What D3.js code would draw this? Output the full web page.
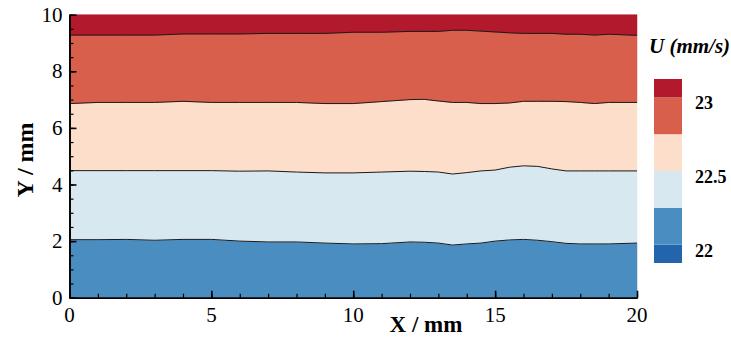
<!DOCTYPE html>
<html>
<head>
<meta charset="utf-8">
<script src="https://cdn.jsdelivr.net/npm/d3@7"></script>
<style>
  html, body { margin: 0; padding: 0; background: #fff; }
  svg { display: block; }
</style>
</head>
<body>
<svg id="chart" width="731" height="337" font-family="'Liberation Serif', 'DejaVu Serif', serif"></svg>
<script>
// ---------- data ----------
const xs = [0,1,2,3,4,5,6,7,8,9,10,11,12,12.5,13,13.5,14,14.5,15,15.5,16,16.5,17,17.5,18,18.5,19,20];
// y position (mm) of each iso-line of U along X
const line2225 = [2.05,2.05,2.06,2.03,2.06,2.06,2.00,1.97,1.97,1.93,1.90,1.91,1.97,1.96,1.93,1.86,1.90,1.93,2.00,2.04,2.06,2.03,1.98,1.92,1.90,1.90,1.90,1.93];
const line225  = [4.49,4.49,4.49,4.49,4.49,4.49,4.47,4.48,4.44,4.41,4.41,4.44,4.47,4.46,4.44,4.37,4.42,4.48,4.51,4.61,4.66,4.64,4.55,4.48,4.48,4.48,4.48,4.48];
const line2275 = [6.86,6.90,6.90,6.90,6.94,6.90,6.90,6.90,6.90,6.86,6.86,6.93,7.00,7.01,6.95,6.90,6.90,6.86,6.86,6.88,6.94,6.94,6.94,6.93,6.90,6.86,6.90,6.90];
const line23   = [9.28,9.28,9.28,9.28,9.32,9.32,9.32,9.34,9.34,9.34,9.38,9.38,9.41,9.41,9.41,9.45,9.45,9.42,9.39,9.36,9.34,9.34,9.34,9.31,9.31,9.28,9.31,9.27];
const contourLevels = [22.25, 22.5, 22.75, 23];
const legendLevels = [22, 22.25, 22.5, 22.75, 23];
const legendLabels = [22, 22.5, 23];
const xTicks = [0, 5, 10, 15, 20];
const yTicks = [0, 2, 4, 6, 8, 10];
// band colours, low to high (first one only shows in the legend)
const bandColors = ["#2265ad", "#4a8dc1", "#d7e8f1", "#fcdeca", "#d75f4c", "#b2192d"];

// ---------- layout ----------
const FONT = "'Liberation Serif', 'DejaVu Serif', serif";
const svg = d3.select("#chart");
const L = 69.5, R = 637, T = 14.7, B = 297.7;
const x = d3.scaleLinear().domain([0, 20]).range([L, R]);
const y = d3.scaleLinear().domain([0, 10]).range([B, T]);

const lines = [line2225, line225, line2275, line23];
const pts = lines.map(arr => xs.map((xv, i) => ({x: xv, y: arr[i]})));

const bands = [];
for (let b = 0; b <= lines.length; b++) {
  bands.push(xs.map((xv, i) => ({
    x: xv,
    y0: b === 0 ? 0 : lines[b - 1][i],
    y1: b === lines.length ? 10 : lines[b][i]
  })));
}
const area = d3.area().x(d => x(d.x)).y0(d => y(d.y0)).y1(d => y(d.y1));
svg.append("g").selectAll("path").data(bands).join("path")
  .attr("d", area)
  .attr("fill", (d, i) => bandColors[i + 1])
  .attr("stroke", (d, i) => bandColors[i + 1])
  .attr("stroke-width", 0.5);

const line = d3.line().x(d => x(d.x)).y(d => y(d.y));
svg.append("g").selectAll("path").data(pts).join("path")
  .attr("d", line)
  .attr("fill", "none")
  .attr("stroke", "#1a1a1a")
  .attr("stroke-width", 1);

// ---------- axes ----------
function styleAxis(g, w) {
  g.select(".domain").attr("stroke", "#000").attr("stroke-width", 1.6);
  g.selectAll(".tick line").attr("stroke", "#000").attr("stroke-width", w);
  g.selectAll(".tick text").remove();
}
svg.append("g").attr("transform", `translate(0,${B})`)
  .call(d3.axisBottom(x).ticks(20).tickSize(-4).tickSizeOuter(0).tickFormat(""))
  .call(g => styleAxis(g, 1.2));
svg.append("g").attr("transform", `translate(0,${B})`)
  .call(d3.axisBottom(x).tickValues(xTicks).tickSize(-7).tickSizeOuter(0).tickFormat(""))
  .call(g => styleAxis(g, 1.6));
svg.append("g").attr("transform", `translate(${L},0)`)
  .call(d3.axisLeft(y).ticks(20).tickSize(-4).tickSizeOuter(0).tickFormat(""))
  .call(g => styleAxis(g, 1.2));
svg.append("g").attr("transform", `translate(${L},0)`)
  .call(d3.axisLeft(y).tickValues(yTicks).tickSize(-7).tickSizeOuter(0).tickFormat(""))
  .call(g => styleAxis(g, 1.6));

svg.append("g").selectAll("text").data(xTicks).join("text")
  .attr("x", d => x(d)).attr("y", 322)
  .attr("text-anchor", "middle")
  .attr("font-family", FONT)
  .attr("font-size", 21)
  .text(d => d);
svg.append("g").selectAll("text").data(yTicks).join("text")
  .attr("x", L - 7).attr("y", d => y(d) + 7)
  .attr("text-anchor", "end")
  .attr("font-family", FONT)
  .attr("font-size", 21)
  .text(d => d);

svg.append("text")
  .attr("x", 426).attr("y", 332)
  .attr("text-anchor", "middle")
  .attr("font-family", FONT)
  .attr("font-size", 23).attr("font-weight", "bold")
  .text("X / mm");
svg.append("text")
  .attr("transform", "translate(33,160) rotate(-90)")
  .attr("text-anchor", "middle")
  .attr("font-family", FONT)
  .attr("font-size", 24).attr("font-weight", "bold")
  .text("Y / mm");

// ---------- legend ----------
const lx0 = 654, lx1 = 682;
const ly = d3.scaleLinear().domain([21.875, 23.125]).range([263, 79]);
const lBounds = [21.875, ...legendLevels, 23.125];
const lBands = d3.range(lBounds.length - 1).map(i => ({lo: lBounds[i], hi: lBounds[i + 1], c: bandColors[i]}));
svg.append("g").selectAll("rect").data(lBands).join("rect")
  .attr("x", lx0).attr("width", lx1 - lx0)
  .attr("y", d => ly(d.hi)).attr("height", d => ly(d.lo) - ly(d.hi))
  .attr("fill", d => d.c);
svg.append("g").selectAll("text").data(legendLabels).join("text")
  .attr("x", 695).attr("y", d => ly(d) + 12)
  .attr("font-family", FONT)
  .attr("font-size", 18).attr("font-weight", "bold")
  .text(d => d);
svg.append("text")
  .attr("x", 649).attr("y", 53)
  .attr("font-family", FONT)
  .attr("font-size", 21).attr("font-weight", "bold").attr("font-style", "italic")
  .text("U (mm/s)");
</script>
</body>
</html>
